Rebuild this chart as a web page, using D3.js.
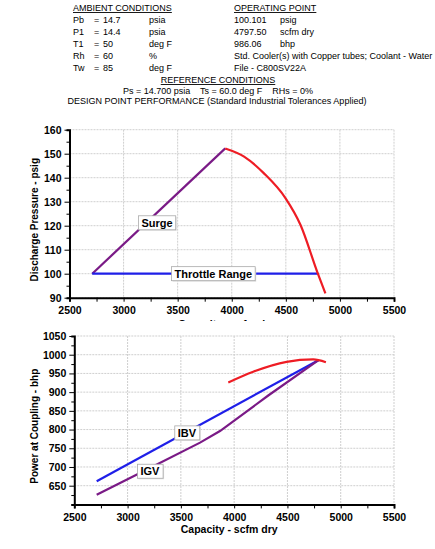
<!DOCTYPE html>
<html>
<head>
<meta charset="utf-8">
<script src="https://cdn.jsdelivr.net/npm/d3@7"></script>
<style>
  body { margin: 0; background: #fff; }
  svg { font-family: Arial, "Liberation Sans", sans-serif; }
  svg text { white-space: pre; }
  .grid line { stroke: #cfcfcf; stroke-dasharray: 2,1; }
  .axis path, .axis line { stroke: #000; }
  .axis path { stroke-width: 2; }
  .axis text { font-size: 10.5px; font-weight: bold; fill: #000; }
</style>
</head>
<body>
<div id="chart"></div>
<script>
// ---- 数据 ----
const ambientRows = [
  ['Pb', '14.7', 'psia'],
  ['P1', '14.4', 'psia'],
  ['T1', '50', 'deg F'],
  ['Rh', '60', '%'],
  ['Tw', '85', 'deg F']
];
const operatingRows = [
  ['100.101', 'psig'],
  ['4797.50', 'scfm dry'],
  ['986.06', 'bhp'],
  ['Std. Cooler(s) with Copper tubes; Coolant - Water', ''],
  ['File - C800SV22A', '']
];

const capacityTicks = [2500, 3000, 3500, 4000, 4500, 5000, 5500];
const pressureTicks = [90, 100, 110, 120, 130, 140, 150, 160];
const powerTicks = [650, 700, 750, 800, 850, 900, 950, 1000, 1050];

// 压力曲线 (capacity, psig)
const surgeLine = [[2710, 100], [3940, 152.2]];
const throttleLine = [[2710, 100], [4800, 100]];
const stonewallCurve = [[3940, 152.2], [4114, 148.8], [4298, 141.8], [4498, 131.4], [4636, 120.3], [4790, 100.8], [4866, 91.8]];

// 功率曲线 (capacity, bhp)
const ibvLine = [[2710, 662], [4795, 986]];
const igvLine = [[2710, 626], [3200, 696], [3680, 765], [3867, 796], [4320, 891], [4795, 986]];
const powerCurve = [[3945, 926], [4179, 954.6], [4492, 981], [4742, 987.5], [4861, 980]];

const W = 435, H = 549;
const svg = d3.select('#chart').append('svg').attr('width', W).attr('height', H);

// ---- 表头 ----
const head = svg.append('g').style('font-size', '9px').attr('fill', '#000');
head.append('text').attr('x', 73).attr('y', 11).text('AMBIENT CONDITIONS').attr('text-decoration', 'underline');
head.append('text').attr('x', 234).attr('y', 11).text('OPERATING POINT').attr('text-decoration', 'underline');
ambientRows.forEach((r, i) => {
  const y = 23 + i * 12;
  head.append('text').attr('x', 73).attr('y', y).text(r[0]);
  head.append('text').attr('x', 94).attr('y', y).text('=');
  head.append('text').attr('x', 103).attr('y', y).text(r[1]);
  head.append('text').attr('x', 149).attr('y', y).text(r[2]);
});
operatingRows.forEach((r, i) => {
  const y = 23 + i * 12;
  head.append('text').attr('x', 234).attr('y', y).text(r[0]);
  head.append('text').attr('x', 280).attr('y', y).text(r[1]);
});
head.append('text').attr('x', 218).attr('y', 83).attr('text-anchor', 'middle')
  .attr('text-decoration', 'underline').text('REFERENCE CONDITIONS');
head.append('text').attr('x', 218).attr('y', 94).attr('text-anchor', 'middle')
  .text('Ps = 14.700 psia    Ts = 60.0 deg F    RHs = 0%');
head.append('text').attr('x', 217).attr('y', 104).attr('text-anchor', 'middle')
  .text('DESIGN POINT PERFORMANCE (Standard Industrial Tolerances Applied)');

// ---- 通用绘图 ----
function drawPanel(cfg) {
  const x = d3.scaleLinear().domain([2500, 5500]).range([cfg.left, cfg.right]);
  const y = d3.scaleLinear().domain(cfg.yDomain).range([cfg.bottom, cfg.top]);
  const g = svg.append('g');

  // 网格
  g.append('g').attr('class', 'grid').selectAll('line').data(capacityTicks.slice(1)).enter().append('line')
    .attr('x1', d => x(d)).attr('x2', d => x(d)).attr('y1', cfg.top).attr('y2', cfg.bottom);
  g.append('g').attr('class', 'grid').selectAll('line').data(cfg.yTicks).enter().append('line')
    .attr('x1', cfg.left).attr('x2', cfg.right).attr('y1', d => y(d)).attr('y2', d => y(d));

  // 坐标轴 (次刻度)
  const xMinor = d3.range(2500, 5501, 250);
  g.append('g').attr('class', 'axis').attr('transform', `translate(0,${cfg.bottom})`)
    .call(d3.axisBottom(x).tickValues(xMinor).tickSize(4).tickFormat(d => d % 500 === 0 ? d : ''))
    .selectAll('text').attr('dy', '0.9em');
  const yMinor = d3.range(cfg.yDomain[0], cfg.yDomain[1] + 0.01, cfg.minorStep);
  g.append('g').attr('class', 'axis').attr('transform', `translate(${cfg.left},0)`)
    .call(d3.axisLeft(y).tickValues(yMinor).tickSize(3).tickPadding(5).tickFormat(d => cfg.yTicks.includes(d) ? d : ''))
    .call(a => a.selectAll('.tick').filter(d => cfg.yTicks.includes(d)).select('line').attr('x2', -5));

  const line = d3.line().x(d => x(d[0])).y(d => y(d[1]));
  cfg.series.forEach(s => {
    g.append('path').datum(s.data).attr('d', line.curve(s.curve || d3.curveLinear))
      .attr('fill', 'none').attr('stroke', s.color).attr('stroke-width', 2.2);
  });

  // 标注框
  cfg.labels.forEach(l => {
    const lg = g.append('g').attr('transform', `translate(${x(l.at[0])},${y(l.at[1])})`);
    const t = lg.append('text').attr('text-anchor', 'middle').attr('dy', '0.36em')
      .style('font-size', '11px').style('font-weight', 'bold').text(l.text);
    const bb = t.node().getBBox();
    lg.insert('rect', 'text').attr('x', bb.x - 3 + 1).attr('y', bb.y - 1 + 1)
      .attr('width', bb.width + 6).attr('height', bb.height + 2).attr('fill', '#ddd');
    lg.insert('rect', 'text').attr('x', bb.x - 3).attr('y', bb.y - 1)
      .attr('width', bb.width + 6).attr('height', bb.height + 2)
      .attr('fill', '#fff').attr('stroke', '#aaa').attr('stroke-width', 0.8);
  });

  // 轴标题
  g.append('text').attr('x', (cfg.left + cfg.right) / 2 - 5).attr('y', cfg.xTitleY).attr('text-anchor', 'middle')
    .style('font-size', '10.5px').style('font-weight', 'bold').text('Capacity - scfm dry');
  g.append('text').attr('transform', `translate(${cfg.yTitleX},${(cfg.top + cfg.bottom) / 2 + 6}) rotate(-90)`)
    .attr('text-anchor', 'middle').style('font-size', '10px').style('font-weight', 'bold').text(cfg.yTitle);
}

drawPanel({
  left: 69.5, right: 394, top: 129.7, bottom: 297.7,
  yDomain: [90, 160], yTicks: pressureTicks, minorStep: 5,
  yTitle: 'Discharge Pressure - psig', yTitleX: 38, xTitleY: 328,
  series: [
    { data: surgeLine, color: '#7a1a86' },
    { data: throttleLine, color: '#1f1fe8' },
    { data: stonewallCurve, color: '#ee1c24', curve: d3.curveMonotoneX }
  ],
  labels: [
    { text: 'Surge', at: [3310, 121.2] },
    { text: 'Throttle Range', at: [3830, 100] }
  ]
});

// 下图背景遮住上图的横轴标题
svg.append('rect').attr('x', 0).attr('y', 321).attr('width', W).attr('height', H - 321).attr('fill', '#fff');

drawPanel({
  left: 74.3, right: 394, top: 336, bottom: 504.4,
  yDomain: [600, 1050], yTicks: powerTicks, minorStep: 25,
  yTitle: 'Power at Coupling - bhp', yTitleX: 38, xTitleY: 533,
  series: [
    { data: ibvLine, color: '#1f1fe8' },
    { data: igvLine, color: '#7a1a86' },
    { data: powerCurve, color: '#ee1c24', curve: d3.curveMonotoneX }
  ],
  labels: [
    { text: 'IBV', at: [3557, 791] },
    { text: 'IGV', at: [3210, 688.5] }
  ]
});
</script>
</body>
</html>
